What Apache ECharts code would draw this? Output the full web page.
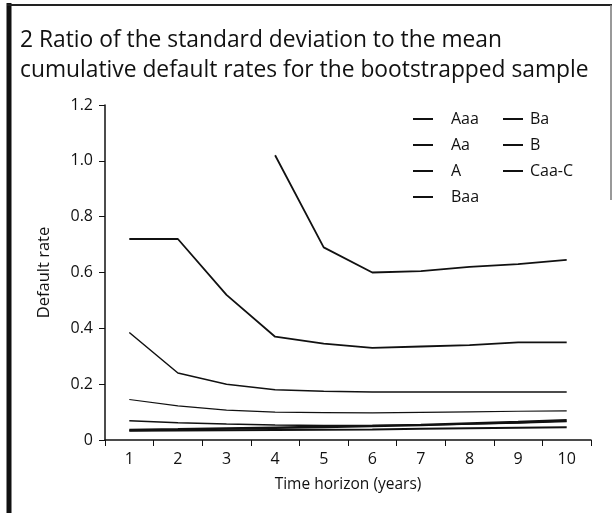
<!DOCTYPE html>
<html>
<head>
<meta charset="utf-8">
<script src="https://cdn.jsdelivr.net/npm/echarts@6/dist/echarts.min.js"></script>
<style>
  html, body { margin: 0; padding: 0; background: #fff; }
  #chart { width: 615px; height: 513px; }
</style>
</head>
<body>
<div id="chart"></div>
<script>
// time horizon in years
const years = ['1', '2', '3', '4', '5', '6', '7', '8', '9', '10']
const yTicks = [0, 0.2, 0.4, 0.6, 0.8, 1.0, 1.2]

// ratio of std deviation to mean cumulative default rate, per rating
const aaa = [null, null, null, 1.02, 0.69, 0.60, 0.605, 0.62, 0.63, 0.645]
const aa = [0.72, 0.72, 0.52, 0.37, 0.345, 0.33, 0.335, 0.34, 0.35, 0.35]
const a = [0.385, 0.24, 0.20, 0.18, 0.175, 0.172, 0.172, 0.172, 0.172, 0.172]
const baa = [0.145, 0.122, 0.107, 0.100, 0.098, 0.097, 0.099, 0.101, 0.103, 0.104]
const ba = [0.069, 0.062, 0.057, 0.054, 0.052, 0.052, 0.054, 0.057, 0.061, 0.066]
const b = [0.036, 0.038, 0.041, 0.044, 0.047, 0.050, 0.054, 0.059, 0.064, 0.071]
const caac = [0.033, 0.034, 0.035, 0.036, 0.037, 0.038, 0.040, 0.042, 0.044, 0.046]

const font = 'Open Sans'
const chart = echarts.init(document.getElementById('chart'))

function line(name, data, width) {
  return {
    name: name,
    type: 'line',
    data: data,
    symbol: 'none',
    silent: true,
    lineStyle: { color: '#111', width: width },
    itemStyle: { color: '#111' }
  }
}

const legendBase = {
  orient: 'vertical',
  top: 106,
  itemWidth: 20,
  itemHeight: 2,
  itemGap: 10,
  icon: 'rect',
  selectedMode: false
}

chart.setOption({
  animation: false,
  title: {
    text: '2 Ratio of the standard deviation to the mean\ncumulative default rates for the bootstrapped sample',
    left: 15,
    top: 21,
    textStyle: {
      fontFamily: font,
      fontSize: 22.8,
      fontWeight: 'normal',
      color: '#111',
      lineHeight: 30
    }
  },
  graphic: [
    { type: 'line', shape: { x1: 9, y1: 3, x2: 9, y2: 513 }, style: { stroke: '#111', lineWidth: 5 } },
    { type: 'line', shape: { x1: 7, y1: 5, x2: 612, y2: 5 }, style: { stroke: '#222', lineWidth: 2 } },
    { type: 'line', shape: { x1: 611, y1: 5, x2: 611, y2: 200 }, style: { stroke: '#777', lineWidth: 1.5 } }
  ],
  legend: [
    Object.assign({}, legendBase, {
      data: ['Aaa', 'Aa', 'A', 'Baa'],
      left: 408,
      textStyle: { fontFamily: font, fontSize: 16, lineHeight: 16, color: '#111', padding: [0, 0, 0, 13] }
    }),
    Object.assign({}, legendBase, {
      data: ['Ba', 'B', 'Caa-C'],
      left: 498,
      textStyle: { fontFamily: font, fontSize: 16, lineHeight: 16, color: '#111', padding: [0, 0, 0, 2] }
    })
  ],
  grid: { left: 105, right: 24, top: 105, bottom: 73 },
  xAxis: {
    type: 'category',
    data: years,
    boundaryGap: true,
    name: 'Time horizon (years)',
    nameLocation: 'middle',
    nameGap: 37,
    nameTextStyle: { fontFamily: font, fontSize: 15.5, color: '#111' },
    axisLine: { lineStyle: { color: '#111', width: 1.5 } },
    axisTick: { show: true, length: 6, lineStyle: { color: '#111' } },
    axisLabel: { fontFamily: font, fontSize: 16, color: '#111', margin: 11 },
    splitLine: { show: false }
  },
  yAxis: {
    type: 'value',
    min: 0,
    max: 1.2,
    interval: 0.2,
    name: 'Default rate',
    nameLocation: 'middle',
    nameGap: 52,
    nameTextStyle: { fontFamily: font, fontSize: 16.5, color: '#111' },
    axisLine: { show: true, lineStyle: { color: '#111', width: 1.5 } },
    axisTick: { show: true, length: 6, lineStyle: { color: '#111' } },
    axisLabel: {
      fontFamily: font,
      fontSize: 16,
      color: '#111',
      margin: 12,
      formatter: function (v) {
        const t = yTicks.find(function (x) { return Math.abs(x - v) < 1e-6 })
        if (t === undefined) return ''
        return t === 0 ? '0' : t.toFixed(1)
      }
    },
    splitLine: { show: false }
  },
  series: [
    line('Aaa', aaa, 1.8),
    line('Aa', aa, 1.8),
    line('A', a, 1.5),
    line('Baa', baa, 1.2),
    line('Ba', ba, 1.5),
    line('B', b, 2.6),
    line('Caa-C', caac, 2)
  ]
})
</script>
</body>
</html>
